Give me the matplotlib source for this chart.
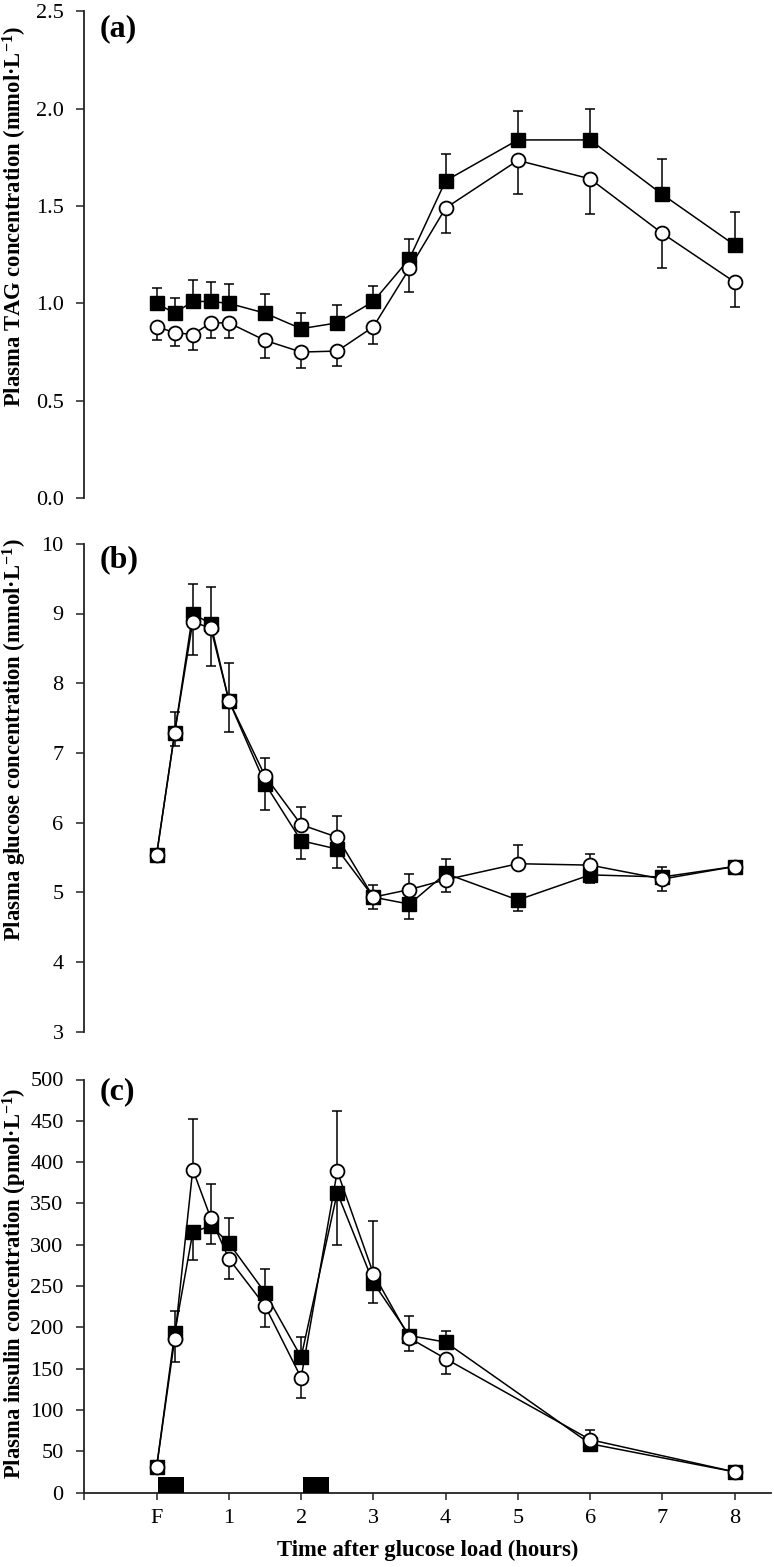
import matplotlib
matplotlib.use('Agg')
import matplotlib.pyplot as plt
import numpy as np

plt.rcParams['font.family'] = ['Liberation Serif', 'DejaVu Serif']
plt.rcParams['mathtext.fontset'] = 'custom'
plt.rcParams['mathtext.rm'] = 'Liberation Serif'
plt.rcParams['mathtext.bf'] = 'Liberation Serif:bold'
plt.rcParams['mathtext.default'] = 'bf'

# ---------------- data ----------------
time_ab = [0, 0.25, 0.5, 0.75, 1, 1.5, 2, 2.5, 3, 3.5, 4, 5, 6, 7, 8]
time_c = [0, 0.25, 0.5, 0.75, 1, 1.5, 2, 2.5, 3, 3.5, 4, 6, 8]

# (a) TAG
tag_sq = [1.00, 0.95, 1.01, 1.01, 1.00, 0.95, 0.87, 0.90, 1.01, 1.23, 1.63, 1.84, 1.84, 1.56, 1.30]
tag_sq_err = [0.08, 0.08, 0.11, 0.10, 0.10, 0.10, 0.08, 0.09, 0.08, 0.10, 0.14, 0.15, 0.16, 0.18, 0.17]
tag_sq_dir = [1, 1, 1, 1, 1, 1, 1, 1, 1, 1, 1, 1, 1, 1, 1]
tag_ci = [0.88, 0.85, 0.84, 0.90, 0.90, 0.81, 0.75, 0.755, 0.88, 1.18, 1.49, 1.735, 1.64, 1.36, 1.11]
tag_ci_err = [0.07, 0.07, 0.08, 0.08, 0.08, 0.09, 0.08, 0.075, 0.09, 0.12, 0.13, 0.175, 0.18, 0.18, 0.13]
tag_ci_dir = [-1, -1, -1, -1, -1, -1, -1, -1, -1, -1, -1, -1, -1, -1, -1]

# (b) glucose
glu_sq = [5.54, 7.29, 9.00, 8.85, 7.75, 6.56, 5.74, 5.62, 4.93, 4.83, 5.27, 4.89, 5.25, 5.22, 5.37]
glu_sq_err = [0.05, 0.29, 0.43, 0.53, 0.54, 0.38, 0.26, 0.27, 0.17, 0.22, 0.21, 0.16, 0.12, 0.14, 0.05]
glu_sq_dir = [1, 1, 1, 1, 1, -1, -1, -1, -1, -1, 1, -1, -1, 1, 1]
glu_ci = [5.54, 7.29, 8.88, 8.79, 7.75, 6.67, 5.97, 5.79, 4.93, 5.04, 5.18, 5.41, 5.39, 5.19, 5.37]
glu_ci_err = [0.05, 0.19, 0.48, 0.55, 0.45, 0.26, 0.26, 0.31, 0.17, 0.22, 0.17, 0.27, 0.16, 0.17, 0.05]
glu_ci_dir = [-1, -1, -1, -1, -1, 1, 1, 1, 1, 1, -1, 1, 1, -1, -1]

# (c) insulin
ins_sq = [31, 193, 315, 323, 302, 242, 164, 363, 254, 190, 182, 59, 25]
ins_sq_err = [5, 27, 33, 22, 30, 29, 24, 63, 25, 24, 13, 5, 5]
ins_sq_dir = [1, 1, -1, -1, 1, 1, 1, -1, -1, 1, 1, 1, 1]
ins_ci = [31, 186, 391, 332, 283, 226, 139, 389, 265, 187, 162, 64, 25]
ins_ci_err = [5, 28, 61, 42, 25, 26, 24, 73, 64, 16, 18, 12, 5]
ins_ci_dir = [-1, -1, 1, 1, -1, -1, -1, 1, 1, -1, -1, 1, -1]

# glucose load periods (black bars on time axis)
load_start = [0.02, 2.02]
load_width = [0.36, 0.36]
load_height = [19, 19]

xtick_pos = [-1, 0, 1, 2, 3, 4, 5, 6, 7, 8]
xtick_lab = ['', 'F', '1', '2', '3', '4', '5', '6', '7', '8']

# ---------------- figure ----------------
W, H = 774, 1567
fig = plt.figure(figsize=(W / 100, H / 100), dpi=100)

left = 84.4 / W
width = (770.7 - 84.4) / W


def ax_at(top_px, bottom_px):
    return fig.add_axes([left, 1 - bottom_px / H, width, (bottom_px - top_px) / H])


axA = ax_at(11.5, 498.0)
axB = ax_at(543.8, 1031.7)
axC = ax_at(1079.5, 1492.5)

TICK_FS = 16
LW = 1.1


def split(err, d):
    err = np.asarray(err, float)
    d = np.asarray(d)
    lo = np.where(d < 0, err, 0.0)
    hi = np.where(d > 0, err, 0.0)
    return [lo, hi]


def draw(ax, t, sq, sq_err, sq_dir, ci, ci_err, ci_dir):
    ax.errorbar(t, sq, yerr=split(sq_err, sq_dir), fmt='none', ecolor='black',
                elinewidth=LW, capsize=3.5, capthick=LW, zorder=2)
    ax.plot(t, sq, '-', color='black', lw=LW, marker='s', ms=10.5,
            mfc='black', mec='black', mew=1.0, zorder=3)
    ax.errorbar(t, ci, yerr=split(ci_err, ci_dir), fmt='none', ecolor='black',
                elinewidth=LW, capsize=3.5, capthick=LW, zorder=4)
    ax.plot(t, ci, '-', color='black', lw=LW, marker='o', ms=10,
            mfc='white', mec='black', mew=1.3, zorder=5)


def style(ax, show_x):
    for s in ['top', 'right']:
        ax.spines[s].set_visible(False)
    ax.spines['left'].set_linewidth(1.3)
    ax.spines['left'].set_color('#222222')
    ax.set_xlim(-1, 8.5)
    ax.tick_params(axis='y', direction='out', length=5.5, width=1.1,
                   labelsize=TICK_FS, pad=9.5, color='#222222')
    if show_x:
        ax.spines['bottom'].set_linewidth(1.3)
        ax.spines['bottom'].set_color('#222222')
        ax.set_xticks(xtick_pos)
        ax.set_xticklabels(xtick_lab)
        ax.tick_params(axis='x', direction='out', length=5, width=1.1,
                       labelsize=TICK_FS, pad=7, color='#222222')
    else:
        ax.spines['bottom'].set_visible(False)
        ax.tick_params(axis='x', bottom=False, labelbottom=False)


draw(axA, time_ab, tag_sq, tag_sq_err, tag_sq_dir, tag_ci, tag_ci_err, tag_ci_dir)
style(axA, False)
axA.set_ylim(0, 2.5)
axA.set_yticks([0, 0.5, 1.0, 1.5, 2.0, 2.5])
axA.set_yticklabels(['0.0', '0.5', '1.0', '1.5', '2.0', '2.5'])

draw(axB, time_ab, glu_sq, glu_sq_err, glu_sq_dir, glu_ci, glu_ci_err, glu_ci_dir)
style(axB, False)
axB.set_ylim(3, 10)
axB.set_yticks(range(3, 11))

draw(axC, time_c, ins_sq, ins_sq_err, ins_sq_dir, ins_ci, ins_ci_err, ins_ci_dir)
axC.bar(load_start, load_height, width=load_width, align='edge',
        color='black', zorder=3)
style(axC, True)
axC.set_ylim(0, 500)
axC.set_yticks(range(0, 501, 50))

# y labels
LAB_FS = 16.3
lx = 15 / W
fig.text(lx, 1 - 216 / H, 'Plasma TAG concentration (mmol·L$^{-1}$)',
         rotation=90, ha='center', va='center', fontsize=LAB_FS, fontweight='bold')
fig.text(lx, 1 - 740 / H, 'Plasma glucose concentration (mmol·L$^{-1}$)',
         rotation=90, ha='center', va='center', fontsize=LAB_FS, fontweight='bold')
fig.text(lx, 1 - 1283 / H, 'Plasma insulin concentration (pmol·L$^{-1}$)',
         rotation=90, ha='center', va='center', fontsize=LAB_FS, fontweight='bold')

# panel letters
for lab, yc in [('(a)', 28.5), ('(b)', 560), ('(c)', 1092)]:
    fig.text(100 / W, 1 - yc / H, lab, ha='left', va='center',
             fontsize=23, fontweight='bold')

# x label
fig.text(428 / W, 1 - 1550 / H, 'Time after glucose load (hours)',
         ha='center', va='center', fontsize=LAB_FS, fontweight='bold')

fig.savefig('out.png', dpi=100)
